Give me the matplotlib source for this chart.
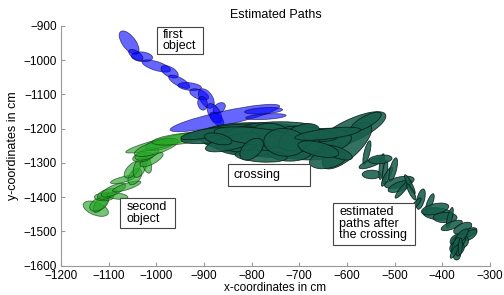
import matplotlib
matplotlib.use("Agg")
import matplotlib.pyplot as plt
from matplotlib.patches import Ellipse, Rectangle

plt.rcParams['font.family'] = ['Liberation Sans', 'DejaVu Sans']

# ---- first object (blue) ellipses: centre x, centre y, width, height, angle
blue_x = [-1057, -1030, -1043, -1000, -972, -952, -930, -910, -895, -903, -868, -878, -873, -856, -775, -770]
blue_y = [-949, -990, -985, -1017, -1034, -1063, -1077, -1100, -1112, -1126, -1140, -1155, -1172, -1169, -1148, -1165]
blue_w = [75, 45, 40, 65, 45, 55, 50, 45, 60, 40, 35, 60, 45, 240, 80, 85]
blue_h = [30, 28, 20, 25, 25, 22, 22, 25, 28, 20, 22, 25, 22, 40, 18, 16]
blue_a = [-65, -10, -50, -25, -45, -40, -10, -35, -70, -85, 60, -70, -60, 17, 5, 5]

# ---- second object (green) ellipses
green_x = [-1127, -1115, -1120, -1110, -1103, -1082, -1090, -1062, -1070, -1045, -1050, -1034, -1020,
           -1010, -1028, -1020, -992, -984, -1000, -950]
green_y = [-1434, -1415, -1420, -1400, -1391, -1397, -1380, -1369, -1349, -1340, -1320, -1311, -1303,
           -1290, -1283, -1274, -1246, -1240, -1255, -1230]
green_w = [60, 65, 50, 40, 45, 45, 60, 65, 55, 50, 55, 65, 55, 60, 45, 55, 65, 170, 100, 120]
green_h = [35, 22, 30, 22, 25, 18, 25, 18, 16, 25, 25, 25, 18, 25, 25, 28, 30, 25, 35, 30]
green_a = [-35, 65, 50, 0, 30, -10, 35, 25, 20, 70, 60, 75, -80, 40, 20, 30, 20, 20, 25, 10]

# ---- estimated paths after the crossing (dark teal) ellipses
teal_x = [-762, -860, -700, -590, -600, -650, -800, -740, -680, -820, -720, -780, -640, -560, -900, -760, -690, -620,
          -840, -780, -700, -730, -660, -800, -870, -640,
          -558, -548, -548, -527, -520, -516, -503, -490, -489, -483, -468, -465, -445, -426, -455, -409, -415,
          -394, -384, -380, -357, -342, -342, -363, -367, -369, -369, -360, -530, -372, -366, -362, -375]
teal_y = [-1234, -1215, -1250, -1205, -1250, -1235, -1250, -1200, -1215, -1230, -1270, -1280, -1290, -1180, -1215, -1215, -1240, -1270,
          -1240, -1225, -1225, -1240, -1260, -1260, -1230, -1215,
          -1270, -1300, -1334, -1311, -1326, -1340, -1320, -1357, -1369, -1377, -1363, -1385, -1406, -1417, -1420, -1449, -1435,
          -1460, -1460, -1483, -1491, -1503, -1511, -1531, -1526, -1549, -1569, -1515, -1290, -1540, -1555, -1545, -1560]
teal_w = [300, 180, 180, 170, 160, 120, 150, 160, 120, 90, 90, 110, 80, 80, 100, 60, 50, 70,
          120, 200, 100, 80, 90, 70, 60, 140,
          70, 60, 40, 75, 70, 60, 70, 65, 55, 60, 60, 50, 60, 55, 40, 65, 60,
          50, 60, 50, 45, 35, 40, 45, 40, 40, 30, 50, 50, 45, 35, 50, 40]
teal_h = [100, 45, 80, 60, 60, 70, 60, 40, 40, 70, 50, 35, 50, 30, 25, 80, 80, 30,
          40, 50, 60, 90, 40, 40, 30, 30,
          12, 20, 25, 10, 10, 12, 14, 30, 25, 12, 10, 10, 16, 12, 10, 35, 30,
          30, 10, 20, 25, 20, 20, 35, 30, 30, 15, 18, 25, 12, 10, 8, 10]
teal_a = [-5, 12, -8, 35, 55, 10, 0, 0, -10, 30, 0, -5, 20, 40, 15, 80, 60, -30,
          20, -10, 40, 70, -20, 60, -20, 10,
          80, 30, 0, 85, 85, 70, 80, 20, 30, 60, -70, -70, 80, 75, 60, -10, 20,
          0, 80, 30, 40, 40, 50, 70, 60, 80, 85, 60, 10, 75, 85, 88, 70]

# ---- text annotations (boxes)
note_text = ["first\nobject", "second\nobject", "crossing", "estimated\npaths after\nthe crossing"]
note_x0 = [-999, -1076, -850, -629]
note_x1 = [-902, -961, -678, -457]
note_y0 = [-903, -1403, -1303, -1417]
note_y1 = [-983, -1491, -1369, -1540]

fig = plt.figure(figsize=(5.04, 2.95), dpi=100)
ax = fig.add_axes([0.121, 0.100, 0.851, 0.812])

def draw(xs, ys, ws, hs, angs, fc, alpha, ec, z):
    for x, y, w, h, a in zip(xs, ys, ws, hs, angs):
        ax.add_patch(Ellipse((x, y), w, h, angle=a, facecolor=fc, alpha=alpha,
                             edgecolor=ec, linewidth=0.6, zorder=z))

draw(green_x, green_y, green_w, green_h, green_a, (0.15, 0.65, 0.15), 0.65, '#103010', 2)
draw(blue_x, blue_y, blue_w, blue_h, blue_a, (0.0, 0.0, 1.0), 0.6, '#000040', 3)
draw(teal_x, teal_y, teal_w, teal_h, teal_a, '#175e4b', 0.88, '#061a14', 4)

for t, x0, x1, y0, y1 in zip(note_text, note_x0, note_x1, note_y0, note_y1):
    ax.add_patch(Rectangle((x0, y1), x1 - x0, y0 - y1, facecolor='white',
                           edgecolor='#444444', linewidth=0.8, zorder=9))
    ax.text(x0 + 13, (y0 + y1) / 2, t, fontsize=9, va='center', ha='left',
            zorder=10, linespacing=0.95)

ax.set_xlim(-1200, -300)
ax.set_ylim(-1600, -900)
ax.set_xticks(range(-1200, -299, 100))
ax.set_yticks(range(-1600, -899, 100))
for s in ['top', 'right']:
    ax.spines[s].set_visible(False)
for s in ['left', 'bottom']:
    ax.spines[s].set_color('#999999')
ax.tick_params(direction='in', length=3, labelsize=8.5, color='#999999')
ax.tick_params(axis='x', pad=3.5)
ax.tick_params(axis='y', pad=3)
ax.set_title('Estimated Paths', fontsize=9, pad=6)
ax.set_xlabel('x-coordinates in cm', fontsize=8.5, labelpad=0)
ax.set_ylabel('y-coordinates in cm', fontsize=9, labelpad=3)

fig.savefig('out.png', dpi=100)
